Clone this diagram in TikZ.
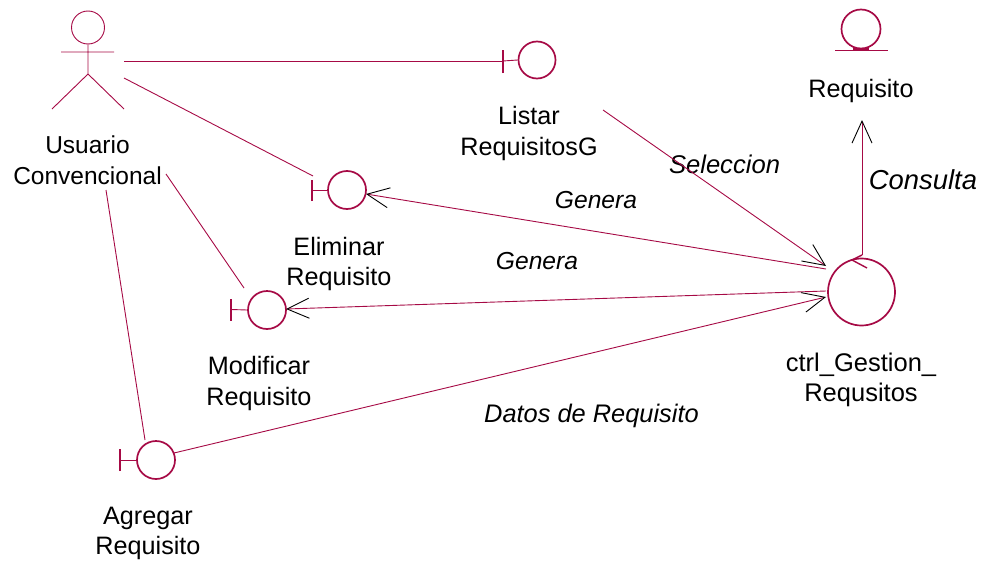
\documentclass[tikz,border=0pt]{standalone}
\usepackage{fontspec}
\setmainfont{Liberation Sans}
\usetikzlibrary{arrows.meta}
\definecolor{rose}{HTML}{A60A45}
\tikzset{
  x=1pt,y=-1pt,
  ln/.style={draw=rose,line width=0.9pt},
  sym/.style={draw=rose,line width=1.7pt,circle,inner sep=0pt,minimum size=#1},
  headcirc/.style={draw=rose,line width=0.9pt,circle,inner sep=0pt,minimum size=33pt},
  lab/.style={inner sep=0pt,align=center,font=\fontsize{#1}{30.5}\selectfont},
  lab/.default=25.2,
  ilab/.style={inner sep=0pt,font=\fontsize{#1}{30}\selectfont\itshape},
  arr/.style={ln,-{Straight Barb[black,length=22pt,width=20pt,line width=0.9pt]}},
  bar/.style={draw=rose,line width=2.4pt},
}
\begin{document}
\begin{tikzpicture}
\useasboundingbox (0,0) rectangle (982,562);
% symbols
\node[headcirc] (head) at (88,27.5) {};
\node[sym=37pt] (listar) at (537,60) {};
\node[sym=38pt] (elim) at (347,190) {};
\node[sym=38pt] (modif) at (267,310) {};
\node[sym=38pt] (agreg) at (156,460) {};
\node[sym=67pt] (ctrl) at (861.5,292) {};
\node[sym=39pt] (ent) at (861,29) {};
% labels
\node[lab=24.5] (lusu) at (87.5,160) {Usuario\\Convencional};
\node[lab] (llis) at (529,133.5) {Listar\\RequisitosG};
\node[lab] (lreq) at (861,91) {Requisito};
\node[lab] (lelim) at (339,264) {Eliminar\\Requisito};
\node[lab] (lmod) at (259,383.5) {Modificar\\Requisito};
\node[lab] (lagr) at (148,533.5) {Agregar\\Requisito};
\node[lab=25.5] (lctrl) at (861,380) {ctrl\_Gestion\_\\Requsitos};
\node[ilab=24.6] (g1) at (596,200) {Genera};
\node[ilab=24.6] (g2) at (537,261) {Genera};
\node[ilab=25.6] (sel) at (724.5,164) {Seleccion};
\node[ilab=27.4] (cons) at (923,180) {Consulta};
\node[ilab=25.4] (dat) at (591.5,416) {Datos de Requisito};
% actor
\coordinate (neck) at (88,44);
\coordinate (hip) at (88,74);
\coordinate (armL) at (61,52);
\coordinate (armR) at (114,52);
\coordinate (legL) at (52,109);
\coordinate (legR) at (124,109);
\draw[ln] (head.south) -- (hip) (armL) -- (armR) (legL) -- (hip) -- (legR);
% interface bars
\coordinate (blis) at (503,61);
\coordinate (belim) at (312,190);
\coordinate (bmod) at (231,309.5);
\coordinate (bagr) at (120,460);
\draw[ln] (blis) -- (listar.west);
\draw[ln] (belim) -- (elim.west);
\draw[ln] (bmod) -- (modif.west);
\draw[ln] (bagr) -- (agreg.west);
\draw[bar] ([yshift=-12pt]blis) -- ([yshift=11pt]blis);
\draw[bar] ([yshift=-11pt]belim) -- ([yshift=10pt]belim);
\draw[bar] ([yshift=-11pt]bmod) -- ([yshift=11pt]bmod);
\draw[bar] ([yshift=-11pt]bagr) -- ([yshift=11pt]bagr);
% entity underline
\coordinate (eL) at (835,50.5);
\coordinate (eR) at (888,50.5);
\draw[draw=rose,line width=1.2pt] (eL) -- (eR);
\draw[draw=rose,line width=2.2pt] (853,49.5) -- (869,49.5);
% control notch
\coordinate (nA) at (852,260);
\coordinate (nB) at (862,255);
\coordinate (nC) at (867,268);
\draw[draw=rose,line width=1.4pt] (nB) -- (nA) -- (nC);
% free ends
\coordinate (a1) at (124,61);
\coordinate (a2) at (124,78);
\coordinate (e2) at (313,176);
\coordinate (a3) at (166,174);
\coordinate (e3) at (244,288);
\coordinate (a4) at (106,190);
\coordinate (e4) at (145,440);
\coordinate (s1) at (603,110);
\coordinate (t1) at (826,266);
\coordinate (t2) at (826,297);
\coordinate (c1) at (826,269);
\coordinate (c2) at (826,291);
\coordinate (tr) at (862,120);
\coordinate (el) at (366,194);
\coordinate (ml) at (286,309);
\coordinate (ag) at (174,453);
% connectors
\draw[ln] (a1) -- (blis);
\draw[ln] (a2) -- (e2);
\draw[ln] (a3) -- (e3);
\draw[ln] (a4) -- (e4);
\draw[arr] (s1) -- (t1);
\draw[arr] (c1) -- (el);
\draw[arr] (c2) -- (ml);
\draw[arr] (ag) -- (t2);
\draw[arr] (nB) -- (tr);
\end{tikzpicture}
\end{document}
